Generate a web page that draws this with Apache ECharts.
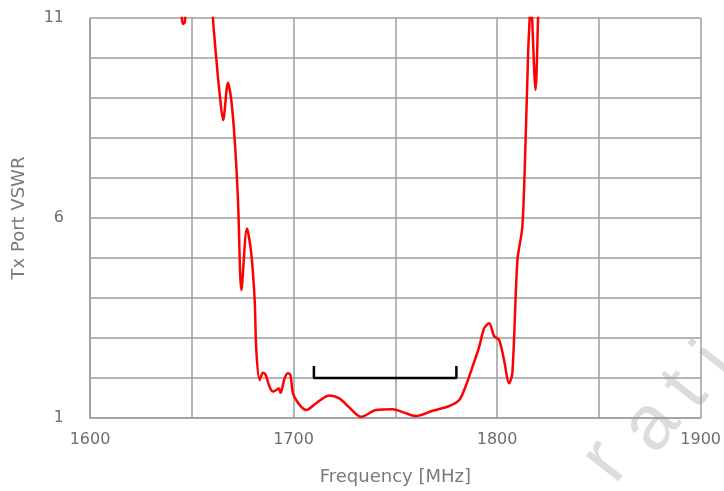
<!DOCTYPE html>
<html>
<head>
<meta charset="utf-8">
<script src="https://cdn.jsdelivr.net/npm/echarts@6/dist/echarts.min.js"></script>
<style>
  html, body { margin: 0; padding: 0; background: #fff; }
  #chart { width: 724px; height: 491px; }
</style>
</head>
<body>
<div id="chart"></div>
<script>
// measured VSWR trace (MHz, VSWR); values above 11 are clipped by the plot
const freq = [
  1644.6, 1645.2, 1645.8, 1646.6, 1647.2, 1650, 1657,
  1660.4, 1662.1, 1663.7, 1665.4, 1667.8, 1669.4, 1671.1, 1672.7, 1674.4, 1677.1,
  1679.2, 1680.9, 1681.7, 1683.3, 1685.0, 1686.3, 1688.2, 1689.9, 1691.5, 1692.8,
  1693.6, 1695.6, 1697.2, 1698.4, 1699.7, 1701.3, 1703.8, 1706.2, 1711.1, 1717.6,
  1722.5, 1727.5, 1733.2, 1740.5, 1748.7, 1754, 1760.1, 1768.3, 1776.5, 1781.4,
  1784.6, 1787.9, 1791.2, 1793.6, 1796.1, 1798.5, 1801, 1803.4, 1805.9, 1807.5,
  1810, 1812.4, 1814, 1815.3, 1816, 1816.6, 1817.2, 1818.9, 1820.1, 1821.2
]
const vswr = [
  11.6, 10.95, 10.85, 10.9, 11.5, 14, 14,
  11, 9.95, 9.1, 8.45, 9.38, 8.95, 7.95, 6.45, 4.2, 5.74,
  5.12, 3.95, 2.7, 1.95, 2.13, 2.08, 1.78, 1.66, 1.70, 1.74,
  1.63, 1.99, 2.12, 2.08, 1.62, 1.45, 1.28, 1.2, 1.37, 1.56,
  1.49, 1.26, 1.03, 1.2, 1.22, 1.14, 1.05, 1.18, 1.3, 1.45,
  1.8, 2.28, 2.78, 3.24, 3.37, 3.05, 2.95, 2.45, 1.87, 2.12,
  4.95, 5.78, 7.95, 10.2, 11, 11.8, 11, 9.2, 11, 13.5
]
// passband marker
const bandFreq = [1710, 1710, 1780, 1780]
const bandVswr = [2.3, 2.0, 2.0, 2.3]

const xTicks = [1600, 1700, 1800, 1900]
const yTicks = [1, 6, 11]

// faint watermark letters along the lower right corner
const markLetters = ['r', 'a', 't', 'i']
const markPos = [[606, 462], [652, 426], [686, 390], [717, 362]]

const chart = echarts.init(document.getElementById('chart'))
const font = 'DejaVu Sans'

const option = {
  animation: false,
  grid: { left: 90, right: 22, top: 18, bottom: 73 },
  graphic: markLetters.map((ch, i) => ({
    type: 'text',
    z: -10,
    x: markPos[i][0],
    y: markPos[i][1],
    rotation: 52 * Math.PI / 180,
    style: {
      text: ch,
      fontSize: 78,
      fontFamily: 'Liberation Sans',
      fill: '#dcdcdc',
      textAlign: 'center',
      textVerticalAlign: 'middle'
    }
  })),
  xAxis: {
    type: 'value',
    min: 1600,
    max: 1900,
    interval: 50,
    name: 'Frequency [MHz]',
    nameLocation: 'middle',
    nameGap: 50,
    nameTextStyle: { color: '#7a7a7a', fontSize: 18, fontFamily: font },
    axisLine: { show: true, lineStyle: { color: '#9e9e9e', width: 1.5 } },
    axisTick: { show: false },
    axisLabel: {
      color: '#6e6e6e',
      fontSize: 16,
      fontFamily: font,
      margin: 14,
      formatter: v => xTicks.includes(v) ? String(v) : ''
    },
    splitLine: { show: true, lineStyle: { color: '#9e9e9e', width: 1.5 } }
  },
  yAxis: {
    type: 'value',
    min: 1,
    max: 11,
    interval: 1,
    name: 'Tx Port VSWR',
    nameLocation: 'middle',
    nameGap: 62,
    nameTextStyle: { color: '#7a7a7a', fontSize: 18, fontFamily: font },
    axisLine: { show: true, lineStyle: { color: '#9e9e9e', width: 1.5 } },
    axisTick: { show: false },
    axisLabel: {
      color: '#6e6e6e',
      fontSize: 16,
      fontFamily: font,
      margin: 26,
      formatter: v => yTicks.includes(v) ? String(v) : ''
    },
    splitLine: { show: true, lineStyle: { color: '#9e9e9e', width: 1.5 } }
  },
  series: [
    {
      type: 'line',
      data: freq.map((f, i) => [f, vswr[i]]),
      smooth: 0.3,
      showSymbol: false,
      clip: true,
      lineStyle: { color: '#ff0000', width: 2.5 }
    },
    {
      type: 'line',
      data: bandFreq.map((f, i) => [f, bandVswr[i]]),
      showSymbol: false,
      lineStyle: { color: '#000000', width: 2.5 }
    }
  ]
}

chart.setOption(option)
</script>
</body>
</html>
